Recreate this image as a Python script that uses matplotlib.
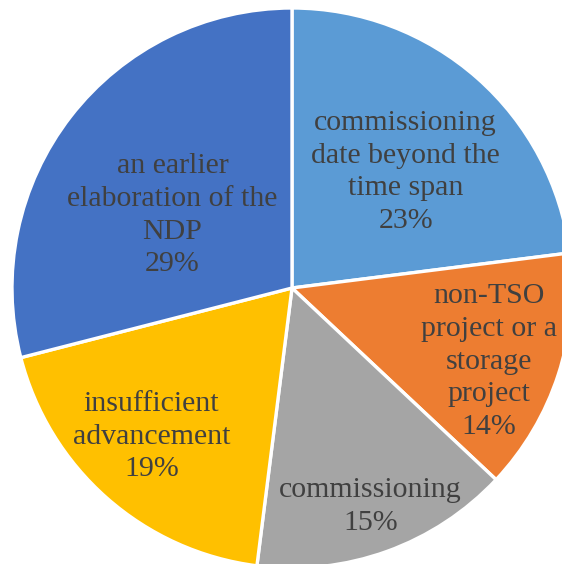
import matplotlib
matplotlib.use("Agg")
import matplotlib.pyplot as plt
import numpy as np

labels = ["commissioning\ndate beyond the\ntime span",
          "non-TSO\nproject or a\nstorage\nproject",
          "commissioning",
          "insufficient\nadvancement",
          "an earlier\nelaboration of the\nNDP"]
values = [23, 14, 15, 19, 29]
colors = ["#5B9BD5", "#ED7D31", "#A5A5A5", "#FFC000", "#4472C4"]
label_dist = [0.58, 0.75, 0.83, 0.73, 0.50]
label_angle_shift = [-3.0, -2.5, 0.0, -2.0, 6.5]

W, H = 562, 564
fig = plt.figure(figsize=(W / 100, H / 100), dpi=100)
ax = fig.add_axes([0, 0, 1, 1])

cx, cy, R = 292, 288, 280
wedges, _ = ax.pie(values, colors=colors, startangle=90, counterclock=False,
                   radius=1.0, center=(0, 0),
                   wedgeprops=dict(edgecolor="white", linewidth=2.4))

for w, lab, v, d, s in zip(wedges, labels, values, label_dist, label_angle_shift):
    ang = np.deg2rad((w.theta1 + w.theta2) / 2 + s)
    ax.text(d * np.cos(ang), d * np.sin(ang), f"{lab}\n{v}%",
            ha="center", va="center", fontsize=21.5, color="#404040",
            family="Liberation Serif", linespacing=1.33)

ax.set_xlim(-cx / R, (W - cx) / R)
ax.set_ylim(-(H - cy) / R, cy / R)
ax.set_aspect("auto")
ax.axis("off")
fig.savefig("out.png", dpi=100)
